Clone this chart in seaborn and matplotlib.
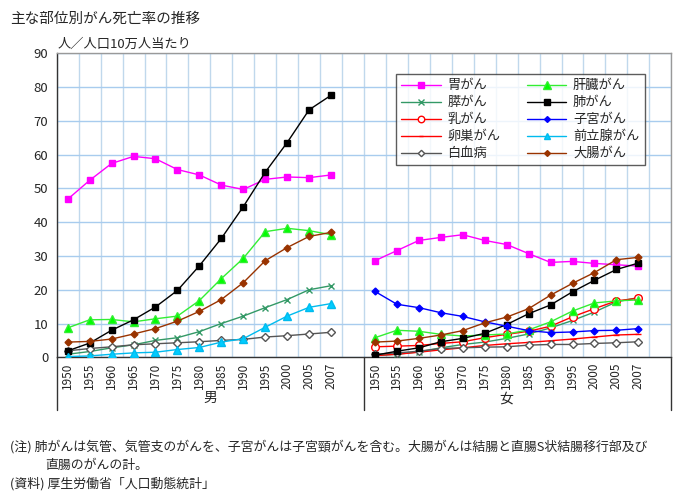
import numpy as np
import pandas as pd
import seaborn as sns
import matplotlib.pyplot as plt

years = ['1950', '1955', '1960', '1965', '1970', '1975', '1980',
         '1985', '1990', '1995', '2000', '2005', '2007']

# 男
m_stomach = [46.8, 52.4, 57.4, 59.5, 58.8, 55.6, 54.0, 51.0, 49.7, 52.7, 53.4, 53.2, 54.0]
m_liver = [8.7, 11.1, 11.2, 10.5, 11.4, 12.2, 16.8, 23.3, 29.3, 37.2, 38.2, 37.5, 36.3]
m_pancreas = [0.9, 1.7, 2.8, 3.7, 5.0, 5.8, 7.6, 10.0, 12.2, 14.7, 17.1, 20.0, 21.2]
m_lung = [1.9, 4.2, 8.0, 11.1, 14.9, 19.8, 27.1, 35.2, 44.6, 54.8, 63.6, 73.3, 77.6]
m_prostate = [0.2, 0.4, 0.9, 1.3, 1.5, 2.3, 2.9, 4.5, 5.5, 8.9, 12.2, 14.8, 15.9]
m_leukemia = [1.9, 2.6, 3.1, 3.7, 4.0, 4.3, 4.6, 5.0, 5.3, 6.0, 6.4, 6.9, 7.4]
m_colon = [4.5, 4.7, 5.4, 6.9, 8.5, 10.7, 13.6, 17.1, 22.1, 28.6, 32.5, 35.8, 37.0]

# 女
f_stomach = [28.6, 31.6, 34.6, 35.5, 36.3, 34.6, 33.4, 30.7, 28.1, 28.4, 27.8, 27.4, 27.0]
f_liver = [5.8, 8.0, 7.7, 6.8, 6.3, 6.6, 6.9, 8.1, 10.5, 13.7, 16.1, 16.7, 17.0]
f_pancreas = [0.5, 0.9, 1.6, 2.8, 3.8, 4.5, 5.6, 6.9, 8.7, 10.9, 13.4, 16.4, 17.7]
f_lung = [0.6, 1.8, 2.8, 4.6, 5.6, 7.1, 9.7, 12.9, 15.5, 19.4, 22.8, 26.0, 27.9]
f_breast = [3.1, 3.3, 3.5, 4.1, 4.6, 5.8, 6.8, 7.7, 9.2, 12.0, 14.4, 16.7, 17.5]
f_uterus = [19.5, 15.7, 14.7, 13.2, 12.1, 10.5, 9.2, 7.9, 7.3, 7.5, 7.9, 8.0, 8.5]
f_ovary = [0.5, 0.9, 1.5, 2.2, 2.8, 3.5, 4.0, 4.4, 4.9, 5.4, 6.0, 6.6, 6.8]
f_leukemia = [0.9, 1.3, 1.8, 2.6, 2.8, 3.0, 3.1, 3.6, 3.8, 3.8, 4.1, 4.3, 4.6]
f_colon = [4.5, 4.8, 5.6, 6.6, 7.9, 10.2, 11.9, 14.4, 18.4, 21.9, 25.1, 28.9, 29.6]

# name, male, female, colour, marker, face, size
series = [
    ('胃がん', m_stomach, f_stomach, '#FF00FF', 's', '#FF00FF', 4.5),
    ('膵がん', m_pancreas, f_pancreas, '#339966', 'x', '#339966', 4.5),
    ('乳がん', None, f_breast, '#FF0000', 'o', 'white', 5.5),
    ('卵巣がん', None, f_ovary, '#FF0000', '_', '#FF0000', 4),
    ('白血病', m_leukemia, f_leukemia, '#555555', 'D', 'white', 3.8),
    ('肝臓がん', m_liver, f_liver, '#33EE33', '^', '#00FF00', 6),
    ('肺がん', m_lung, f_lung, '#000000', 's', '#000000', 4.5),
    ('子宮がん', None, f_uterus, '#0000FF', 'D', '#0000FF', 3.5),
    ('前立腺がん', m_prostate, None, '#00BBEE', '^', '#00CCFF', 5.5),
    ('大腸がん', m_colon, f_colon, '#993300', 'D', '#993300', 3.5),
]

sns.set_style('white')
plt.rcParams['font.family'] = ['Noto Sans CJK JP', 'DejaVu Sans']

fig = plt.figure(figsize=(7, 4.99), dpi=100)
ax = fig.add_axes([0.081, 0.284, 0.878, 0.609])

n = len(years)
pos_m = np.arange(n)
pos_f = np.arange(n) + n + 1

for name, mv, fv, col, mk, face, ms in series:
    for pos, vals in ((pos_m, mv), (pos_f, fv)):
        if vals is None:
            continue
        df = pd.DataFrame({'x': pos, 'y': vals})
        sns.lineplot(data=df, x='x', y='y', ax=ax, color=col, lw=1,
                     marker=mk, markersize=ms, markerfacecolor=face,
                     markeredgecolor=col, markeredgewidth=1,
                     label=name, zorder=3)

ax.set_xlim(-0.5, 2 * n + 1.5)
ax.set_ylim(0, 90)
ax.set_yticks(range(0, 91, 10))
ax.set_xticks(list(pos_m) + list(pos_f))
ax.set_xticklabels(years + years, rotation=90, fontsize=8.5)
ax.set_xticks(np.arange(-0.5, 2 * n + 2, 1), minor=True)
ax.tick_params(axis='y', labelsize=9.5, length=0, pad=6)
ax.tick_params(axis='x', which='both', length=0, pad=4)
ax.grid(True, axis='y', color='#A8CCEE', lw=1)
ax.grid(True, axis='x', which='minor', color='#C0D8EC', lw=1)
ax.grid(False, axis='x', which='major')
ax.set_axisbelow(True)
ax.set_xlabel('')
ax.set_ylabel('')

for s in ['top', 'right']:
    ax.spines[s].set_color('#999999')
    ax.spines[s].set_linewidth(1)
for s in ['left', 'bottom']:
    ax.spines[s].set_color('#333333')
    ax.spines[s].set_linewidth(1)

# group dividers and labels
for xf in [0, 0.5, 1]:
    ax.plot([xf, xf], [0, -0.175], transform=ax.transAxes, color='#333333',
            lw=1, clip_on=False)
ax.text(6.5, -0.135, '男', transform=ax.get_xaxis_transform(),
        ha='center', va='center', fontsize=10)
ax.text(n + 1 + 6, -0.135, '女', transform=ax.get_xaxis_transform(),
        ha='center', va='center', fontsize=10)

handles, labels = ax.get_legend_handles_labels()
uniq = dict(zip(labels, handles))
order = [s[0] for s in series]
ax.legend([uniq[k] for k in order], order, ncol=2, loc='upper left',
          bbox_to_anchor=(0.552, 0.932), borderaxespad=0, frameon=True,
          fancybox=False, edgecolor='#333333', fontsize=9.5, handlelength=3.0,
          columnspacing=2.0, labelspacing=0.3, borderpad=0.4,
          handletextpad=0.5, markerscale=0.85).get_frame().set_linewidth(1)

fig.text(0.014, 0.963, '主な部位別がん死亡率の推移', fontsize=10.5, va='center')
fig.text(0.082, 0.911, '人／人口10万人当たり', fontsize=9.5, va='center')
fig.text(0.014, 0.104, '(注) 肺がんは気管、気管支のがんを、子宮がんは子宮頸がんを含む。大腸がんは結腸と直腸S状結腸移行部及び',
         fontsize=9.3, va='center')
fig.text(0.064, 0.068, '直腸のがんの計。', fontsize=9.3, va='center')
fig.text(0.014, 0.030, '(資料) 厚生労働省「人口動態統計」', fontsize=9.3, va='center')

fig.savefig('out.png', dpi=100)
